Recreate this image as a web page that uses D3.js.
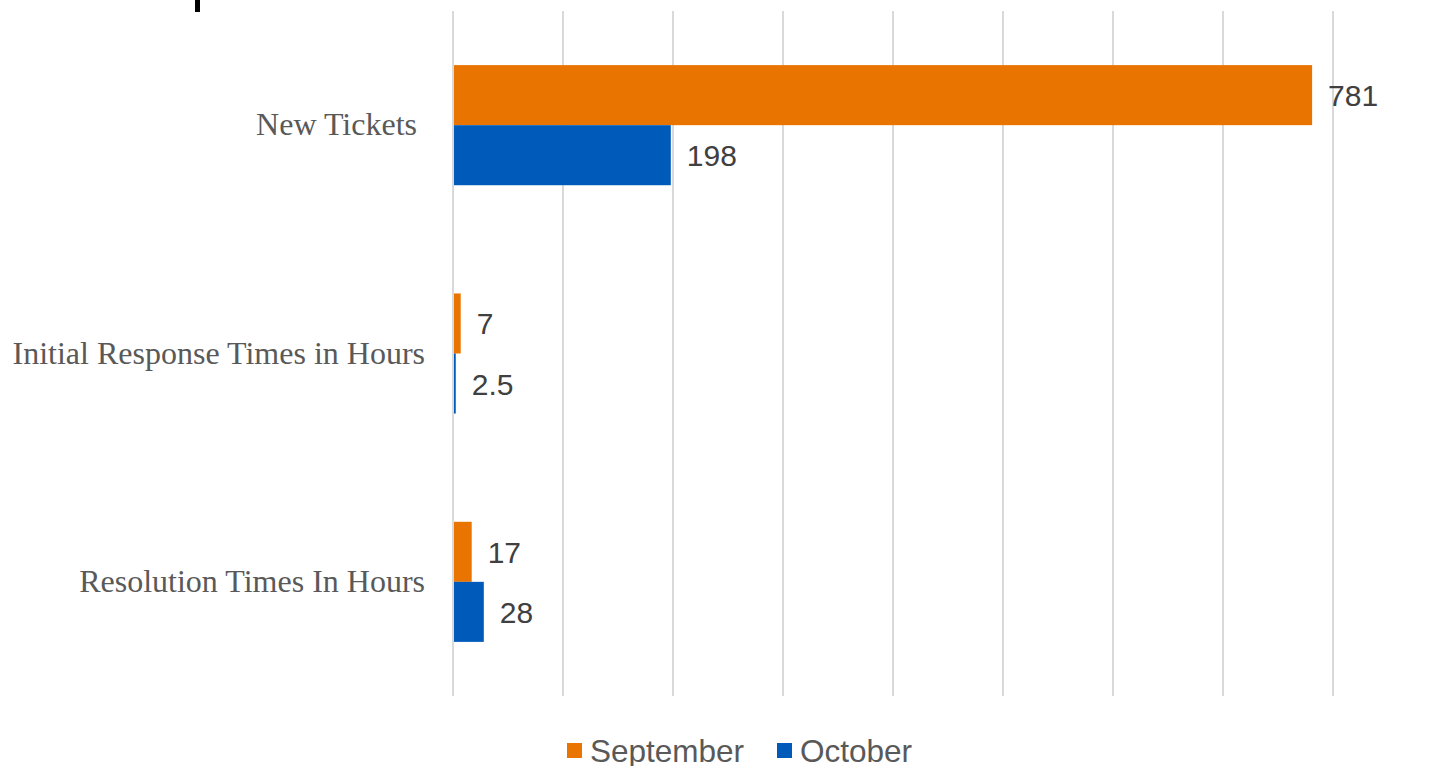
<html>
<head>
<style>
  body { margin: 0; background: #fff; }
  .grid line { stroke: #d9d9d9; stroke-width: 2; }
  .cat { font-family: "Liberation Serif", "Times New Roman", serif; font-size: 32px; fill: #595959; white-space: pre; }
  .val { font-family: "Liberation Sans", Arial, sans-serif; font-size: 30px; fill: #404040; }
  .leg { font-family: "Liberation Sans", Arial, sans-serif; font-size: 31.5px; fill: #595959; }
</style>
<script src="https://cdn.jsdelivr.net/npm/d3@7"></script>
</head>
<body>
<svg id="chart" width="1429" height="766"></svg>
<script>
  // data
  let categories = ["New Tickets ", "Initial Response Times in Hours", "Resolution Times In Hours"]
  let series = ["September", "October"]
  let september = [781, 7, 17]
  let october = [198, 2.5, 28]
  let colors = ["#E97500", "#005ABA"]
  let gridTicks = [0, 100, 200, 300, 400, 500, 600, 700, 800]

  let svg = d3.select("#chart")

  // little black mark at the top left (cut-off item in the source)
  svg.append("rect").attr("x", 195).attr("y", 0).attr("width", 5).attr("height", 12).attr("fill", "#000")

  let xScale = d3.scaleLinear().domain([0, 800]).range([453, 1333])
  let yScale = d3.scaleBand().domain(categories).range([11, 696])
      .paddingInner(0.474).paddingOuter(0.237)
  let sub = d3.scaleBand().domain(series).range([0, yScale.bandwidth()])

  // vertical gridlines
  svg.append("g").attr("class", "grid")
      .selectAll("line").data(gridTicks).join("line")
      .attr("x1", d => xScale(d)).attr("x2", d => xScale(d))
      .attr("y1", 11).attr("y2", 696)

  let values = [september, october]
  let rows = []
  series.forEach((s, i) => {
      categories.forEach((c, j) => rows.push({ s: s, c: c, v: values[i][j], color: colors[i] }))
  })

  // bars
  svg.append("g").selectAll("rect").data(rows).join("rect")
      .attr("x", xScale(0) + 1)
      .attr("y", d => yScale(d.c) + sub(d.s))
      .attr("width", d => Math.max(1.5, xScale(d.v) - xScale(0) - 1))
      .attr("height", sub.bandwidth())
      .attr("fill", d => d.color)

  // value labels
  svg.append("g").selectAll("text").data(rows).join("text")
      .attr("class", "val")
      .attr("x", d => xScale(d.v) + 16)
      .attr("y", d => yScale(d.c) + sub(d.s) + sub.bandwidth() / 2 + 11)
      .text(d => d.v)

  // category labels
  svg.append("g").selectAll("text").data(categories).join("text")
      .attr("class", "cat")
      .attr("x", 425)
      .attr("y", d => yScale(d) + yScale.bandwidth() / 2 + 10)
      .attr("text-anchor", "end")
      .text(d => d)

  // legend
  let legX = [567, 777]
  let leg = svg.append("g").selectAll("g").data(series).join("g")
      .attr("transform", (d, i) => "translate(" + legX[i] + ",743)")
  leg.append("rect").attr("width", 15).attr("height", 15).attr("fill", (d, i) => colors[i])
  leg.append("text").attr("class", "leg").attr("x", 23).attr("y", 19).text(d => d)
</script>
</body>
</html>
